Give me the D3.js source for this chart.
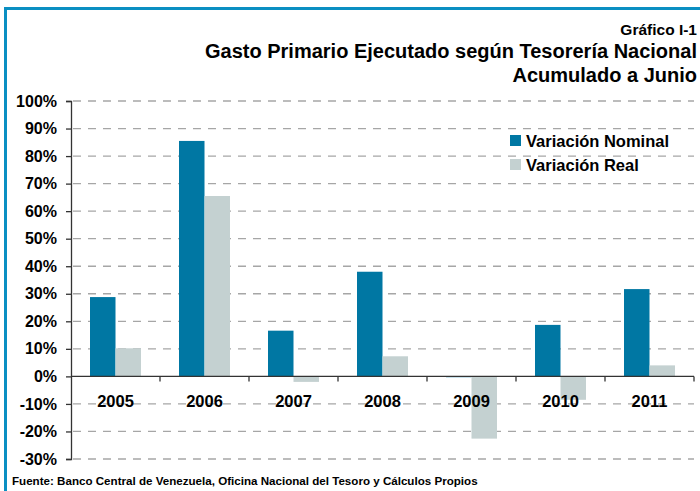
<!DOCTYPE html>
<html>
<head>
<meta charset="utf-8">
<script src="https://cdn.jsdelivr.net/npm/d3@7"></script>
<style>
body { margin: 0; background: #fff; }
text { font-family: "Liberation Sans", Arial, sans-serif; font-weight: bold; }
</style>
</head>
<body>
<script>
// datos
var years = ["2005", "2006", "2007", "2008", "2009", "2010", "2011"];
var nominal = [28.8, 85.5, 16.6, 38.0, -0.3, 18.7, 31.7];
var real = [10.2, 65.5, -2.0, 7.3, -22.6, -8.5, 4.0];
var yTicks = [-30, -20, -10, 0, 10, 20, 30, 40, 50, 60, 70, 80, 90, 100];
var seriesNames = ["Variación Nominal", "Variación Real"];
var colors = ["#0077a3", "#c4d1d1"];

var w = 700;
var h = 491;

var svg = d3.select("body").append("svg")
    .attr("width", w)
    .attr("height", h);

// marco azul
svg.append("rect").attr("x", 4).attr("y", 7).attr("width", w).attr("height", 3).attr("fill", "#0a8fc2");
svg.append("rect").attr("x", 4).attr("y", 7).attr("width", 3).attr("height", h).attr("fill", "#0a8fc2");

var x = d3.scaleBand()
    .domain(years)
    .range([71, 694]);

var y = d3.scaleLinear()
    .domain([-30, 100])
    .range([459, 101]);

// grid
svg.selectAll("line.grid")
    .data(yTicks.filter(function(d) { return d != 0; }))
    .enter()
    .append("line")
    .attr("class", "grid")
    .attr("x1", 73)
    .attr("x2", 694)
    .attr("y1", function(d) { return y(d); })
    .attr("y2", function(d) { return y(d); })
    .attr("stroke", "#a6a6a6")
    .attr("stroke-width", 1.3)
    .attr("stroke-dasharray", "8,7");

var barW = 25.5;
var data = [];
years.forEach(function(yr, i) {
    data.push({year: yr, s: 0, v: nominal[i]});
    data.push({year: yr, s: 1, v: real[i]});
});

svg.selectAll("rect.bar")
    .data(data)
    .enter()
    .append("rect")
    .attr("class", "bar")
    .attr("x", function(d) { return x(d.year) + x.bandwidth() / 2 - barW + d.s * barW; })
    .attr("y", function(d) { return y(Math.max(0, d.v)); })
    .attr("width", barW)
    .attr("height", function(d) { return Math.abs(y(d.v) - y(0)); })
    .attr("fill", function(d) { return colors[d.s]; });

// eje y
var yAxis = d3.axisLeft(y)
    .tickValues(yTicks)
    .tickSize(5)
    .tickPadding(9)
    .tickFormat(function(d) { return d + "%"; });

var gy = svg.append("g")
    .attr("transform", "translate(71,0)")
    .call(yAxis);
gy.select(".domain").attr("stroke", "#333").attr("stroke-width", 1.3);
gy.selectAll(".tick line").attr("stroke", "#333").attr("stroke-width", 1.3);
gy.selectAll("text")
    .attr("font-size", "16px")
    .attr("fill", "#000")
    .attr("font-family", "Liberation Sans, Arial, sans-serif")
    .attr("font-weight", "bold");

// eje x (linea del cero)
svg.append("line")
    .attr("x1", 71).attr("x2", 694)
    .attr("y1", y(0)).attr("y2", y(0))
    .attr("stroke", "#333").attr("stroke-width", 1.3);

svg.selectAll("line.xtick")
    .data(years)
    .enter()
    .append("line")
    .attr("class", "xtick")
    .attr("x1", function(d) { return x(d) + x.bandwidth(); })
    .attr("x2", function(d) { return x(d) + x.bandwidth(); })
    .attr("y1", y(0))
    .attr("y2", y(0) + 5)
    .attr("stroke", "#333").attr("stroke-width", 1.3);

svg.selectAll("text.year")
    .data(years)
    .enter()
    .append("text")
    .attr("class", "year")
    .text(function(d) { return d; })
    .attr("x", function(d) { return x(d) + x.bandwidth() / 2; })
    .attr("y", y(0) + 31)
    .attr("text-anchor", "middle")
    .attr("font-size", "16.5px");

// leyenda
seriesNames.forEach(function(name, i) {
    svg.append("rect")
        .attr("x", 510)
        .attr("y", 135 + i * 24)
        .attr("width", 11)
        .attr("height", 11)
        .attr("fill", colors[i]);
    svg.append("text")
        .text(name)
        .attr("x", 526)
        .attr("y", 147 + i * 24)
        .attr("font-size", "16.5px");
});

// titulos
svg.append("text").text("Gráfico I-1")
    .attr("x", 697).attr("y", 35)
    .attr("text-anchor", "end").attr("font-size", "15.5px");
svg.append("text").text("Gasto Primario Ejecutado según Tesorería Nacional")
    .attr("x", 697).attr("y", 58)
    .attr("text-anchor", "end").attr("font-size", "20px");
svg.append("text").text("Acumulado a Junio")
    .attr("x", 697).attr("y", 82)
    .attr("text-anchor", "end").attr("font-size", "20px");

svg.append("text").text("Fuente: Banco Central de Venezuela, Oficina Nacional del Tesoro y Cálculos Propios")
    .attr("x", 12).attr("y", 485)
    .attr("font-size", "11.6px");
</script>
</body>
</html>
